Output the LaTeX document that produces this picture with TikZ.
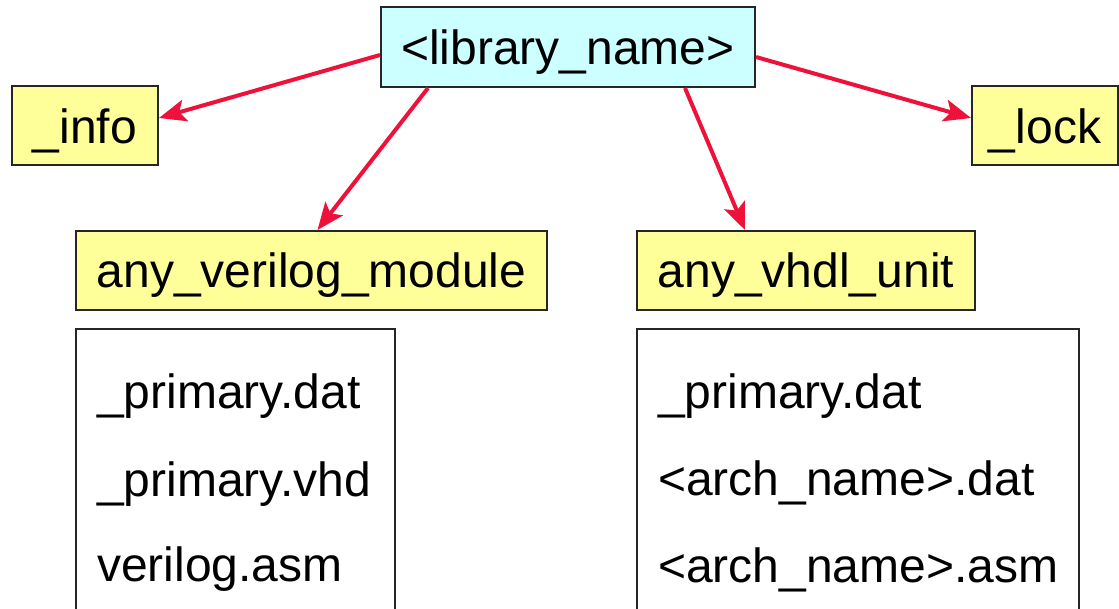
\documentclass[tikz,border=0pt]{standalone}
\usepackage{fontspec}
\setmainfont{Liberation Sans}
\usepackage{tikz}
\usetikzlibrary{arrows.meta, positioning}
\definecolor{libcyan}{RGB}{204,255,255}
\definecolor{diryellow}{RGB}{255,255,153}
\definecolor{linkred}{RGB}{238,18,58}

\begin{document}
\begin{tikzpicture}[
        font=\fontsize{48}{58}\selectfont,
        box/.style={rectangle, draw=black!85, line width=2pt, inner sep=0pt, text height=35pt, text depth=0pt},
        libbox/.style={box, fill=libcyan, minimum height=80pt},
        dirbox/.style={box, fill=diryellow, minimum height=79pt},
        filebox/.style={rectangle, draw=black!85, line width=2pt, fill=white, minimum height=300pt},
        fname/.style={inner sep=0pt, anchor=base west},
        link/.style={-{Stealth[length=27pt, width=22pt, inset=6pt]}, line width=4pt, draw=linkred}
    ]
    \clip (0,0) rectangle (1119pt,-609pt);

    % library root and its files
    \node[libbox, minimum width=374pt] (libname) at (568pt,-47pt) {<library\_name>};
    \node[dirbox, minimum width=146pt] (info) at (85pt,-126pt) {\_info};
    \node[dirbox, minimum width=146pt] (lock) at (1045pt,-126pt) {\_lock};

    % design unit directories
    \node[dirbox, minimum width=471pt] (vmod) at (311.5pt,-270.5pt) {any\_verilog\_module};
    \node[dirbox, minimum width=338pt] (vhdlunit) at (806pt,-270.5pt) {any\_vhdl\_unit};

    \node[filebox, minimum width=319pt, below=17pt of vmod.south west, anchor=north west] (vfiles) {};
    \node[filebox, minimum width=442pt, below=17pt of vhdlunit.south west, anchor=north west] (hfiles) {};

    % verilog module contents
    \node[fname] (vdat) at ([xshift=22pt, yshift=-81pt]vfiles.north west) {\_primary.dat};
    \node[fname] (vvhd) at ([yshift=-87pt]vdat.base west) {\_primary.vhd};
    \node[fname] (vasm) at ([yshift=-85pt]vvhd.base west) {verilog.asm};

    % vhdl unit contents
    \node[fname] (hdat) at ([xshift=22pt, yshift=-81pt]hfiles.north west) {\_primary.dat};
    \node[fname] (harch) at ([yshift=-86pt]hdat.base west) {<arch\_name>.dat};
    \node[fname] (hasm) at ([yshift=-87pt]harch.base west) {<arch\_name>.asm};

    \draw[link] ([yshift=-8pt]libname.west) -- ([yshift=8pt]info.east);
    \draw[link] ([xshift=-140pt]libname.south) -- ([xshift=6pt]vmod.north);
    \draw[link] ([xshift=117pt]libname.south) -- ([xshift=-61pt]vhdlunit.north);
    \draw[link] ([yshift=-10pt]libname.east) -- ([yshift=8pt]lock.west);

\end{tikzpicture}
\end{document}
